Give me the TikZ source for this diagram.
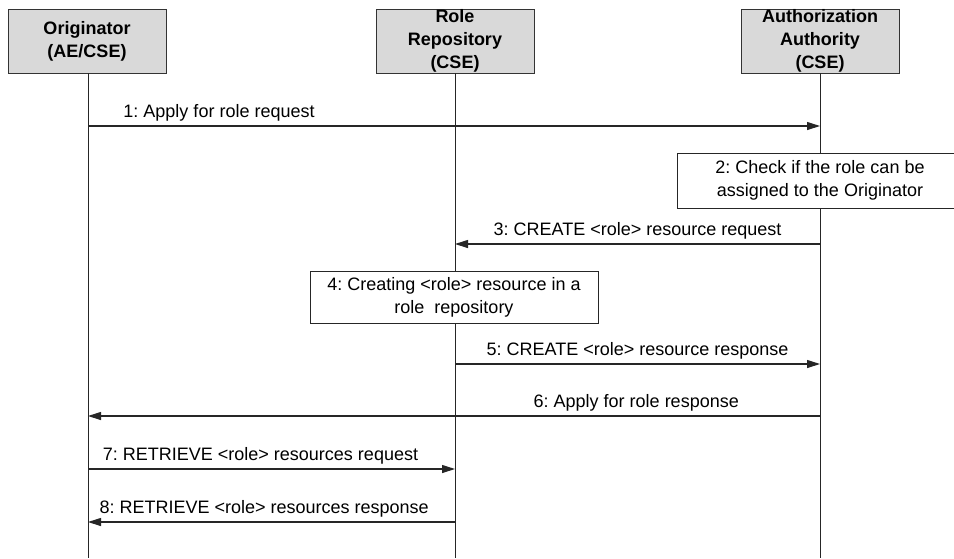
\documentclass[tikz,border=0pt]{standalone}
\usepackage{fontspec}
\setmainfont{Liberation Sans}
\usetikzlibrary{arrows.meta}
\begin{document}
\frenchspacing
\begin{tikzpicture}[x=1pt,y=-1pt,
  every node/.style={font=\fontsize{18}{23}\selectfont\frenchspacing},
  header/.style={draw=black!80, fill=black!15, line width=0.9pt, minimum width=158pt, minimum height=64pt, inner sep=0pt, align=center, font=\fontsize{18}{23}\selectfont\bfseries},
  life/.style={draw=black!85, line width=0.9pt},
  msg/.style={draw=black!85, line width=1.1pt, -{Triangle[length=13pt,width=8pt]}},
  lbl/.style={anchor=base, yshift=9pt, inner sep=0pt, text=black},
  actbox/.style={draw=black!85, fill=white, line width=0.9pt, align=center, inner sep=0pt}
]
\useasboundingbox (0,0) rectangle (954,558);
\clip (0,0) rectangle (954,558);
\fill[white] (0,0) rectangle (954,558);

% headers
\node[header] (orig) at (87,41) {Originator\\(AE/CSE)};
\node[header] (rr) at (455,41) {Role\\Repository\\(CSE)};
\node[header] (aa) at (820,41) {Authorization\\Authority\\(CSE)};

% lifeline ends
\coordinate (oend) at (88,558);
\coordinate (rend) at (455,558);
\coordinate (aend) at (820,558);
\draw[life] (orig.south -| oend) -- (oend);
\draw[life] (rr.south -| rend) -- (rend);
\draw[life] (aa.south -| aend) -- (aend);

% message points
\coordinate (o1) at (88,126);  \coordinate (a1) at (820,126);
\coordinate (a3) at (820,244); \coordinate (r3) at (455,244);
\coordinate (r5) at (455,364); \coordinate (a5) at (820,364);
\coordinate (a6) at (820,416); \coordinate (o6) at (88,416);
\coordinate (o7) at (88,469);  \coordinate (r7) at (455,469);
\coordinate (r8) at (455,522); \coordinate (o8) at (88,522);

\draw[msg] (o1) -- node[lbl, pos=0.179] {1: Apply for role request} (a1);

\node[actbox, minimum width=286pt, minimum height=55pt] (chk) at (820,180.5)
  {2: Check if the role can be\\assigned to the Originator};

\draw[msg] (a3) -- node[lbl, pos=0.5] {3: CREATE <role> resource request} (r3);

\node[actbox, minimum width=288pt, minimum height=52pt] (crt) at (454,297.5)
  {4: Creating <role> resource in a\\role\ \ repository};

\draw[msg] (r5) -- node[lbl, pos=0.5] {5: CREATE <role> resource response} (a5);
\draw[msg] (a6) -- node[lbl, pos=0.251] {6: Apply for role response} (o6);
\draw[msg] (o7) -- node[lbl, pos=0.47] {7: RETRIEVE <role> resources request} (r7);
\draw[msg] (r8) -- node[lbl, pos=0.52] {8: RETRIEVE <role> resources response} (o8);
\end{tikzpicture}
\end{document}
